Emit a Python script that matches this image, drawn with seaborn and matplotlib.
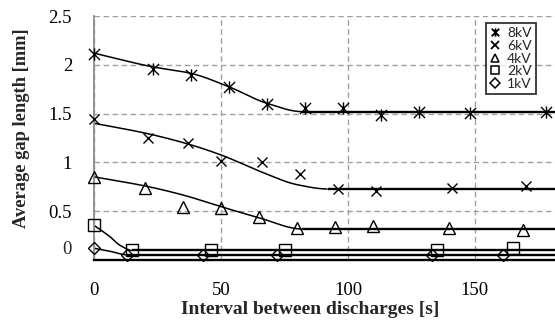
import numpy as np
import matplotlib
matplotlib.use("Agg")
import matplotlib.pyplot as plt
import seaborn as sns
from matplotlib.path import Path
from matplotlib.lines import Line2D

# ---------------- data ----------------
x_8kV = [0, 23, 38, 53, 68, 83, 98, 113, 128, 148, 178]
y_8kV = [2.11, 1.955, 1.895, 1.77, 1.595, 1.554, 1.554, 1.486, 1.513, 1.503, 1.52]
x_6kV = [0, 21, 37, 50, 66, 81, 96, 111, 141, 170]
y_6kV = [1.44, 1.25, 1.20, 1.01, 1.0, 0.877, 0.726, 0.708, 0.733, 0.757]
x_4kV = [0, 20, 35, 50, 65, 80, 95, 110, 140, 169]
y_4kV = [0.85, 0.733, 0.544, 0.528, 0.435, 0.322, 0.333, 0.346, 0.329, 0.305]
x_2kV = [0, 15, 46, 75, 135, 165]
y_2kV = [0.356, 0.10, 0.10, 0.10, 0.10, 0.123]
x_1kV = [0, 13, 43, 72, 133, 161]
y_1kV = [0.117, 0.048, 0.048, 0.048, 0.048, 0.048]

# fitted trend curves (knots); last knot = plateau start
fit_x_8kV = [0, 23, 38, 53, 68, 82]
fit_y_8kV = [2.12, 1.98, 1.914, 1.776, 1.606, 1.52]
fit_x_6kV = [0, 20, 36, 50, 66, 80, 92]
fit_y_6kV = [1.40, 1.30, 1.195, 1.075, 0.90, 0.77, 0.726]
fit_x_4kV = [0, 20, 35, 50, 65, 82]
fit_y_4kV = [0.85, 0.757, 0.664, 0.544, 0.43, 0.315]
fit_x_2kV = [0, 6, 10, 15]
fit_y_2kV = [0.35, 0.24, 0.15, 0.095]
fit_x_1kV = [0, 6, 13]
fit_y_1kV = [0.117, 0.088, 0.05]

labels = ["8kV", "6kV", "4kV", "2kV", "1kV"]
x_ticks = [0, 50, 100, 150]
y_ticks = [0.5, 1.0, 1.5, 2.0, 2.5]
y_tick_labels = ["0.5", "1", "1.5", "2", "2.5"]
X_MAX = 181.6

# ---------------- style ----------------
sns.set_style("white")
plt.rcParams["font.family"] = ["Liberation Serif", "DejaVu Serif"]

star = Path([(-1, -1), (1, 1), (-1, 1), (1, -1), (0, -1.1), (0, 1.1)],
            [Path.MOVETO, Path.LINETO, Path.MOVETO, Path.LINETO, Path.MOVETO, Path.LINETO])

series = [
    (x_8kV, y_8kV, fit_x_8kV, fit_y_8kV, star, 8.8, 6.0),
    (x_6kV, y_6kV, fit_x_6kV, fit_y_6kV, "x", 7.4, 5.2),
    (x_4kV, y_4kV, fit_x_4kV, fit_y_4kV, "^", 9.0, 6.0),
    (x_2kV, y_2kV, fit_x_2kV, fit_y_2kV, "s", 8.8, 6.0),
    (x_1kV, y_1kV, fit_x_1kV, fit_y_1kV, "D", 5.8, 4.6),
]


def monotone_curve(xk, yk, n=200):
    xk = np.asarray(xk, float)
    yk = np.asarray(yk, float)
    h = np.diff(xk)
    d = np.diff(yk) / h
    m = np.zeros_like(xk)
    m[0] = d[0]
    for k in range(1, len(xk) - 1):
        if d[k - 1] * d[k] > 0:
            w1 = 2 * h[k] + h[k - 1]
            w2 = h[k] + 2 * h[k - 1]
            m[k] = (w1 + w2) / (w1 / d[k - 1] + w2 / d[k])
    m[-1] = 0.0
    xs = np.linspace(xk[0], xk[-1], n)
    idx = np.clip(np.searchsorted(xk, xs, side="right") - 1, 0, len(xk) - 2)
    t = (xs - xk[idx]) / h[idx]
    h00 = 2 * t**3 - 3 * t**2 + 1
    h10 = t**3 - 2 * t**2 + t
    h01 = -2 * t**3 + 3 * t**2
    h11 = t**3 - t**2
    ys = h00 * yk[idx] + h10 * h[idx] * m[idx] + h01 * yk[idx + 1] + h11 * h[idx] * m[idx + 1]
    return xs, ys


fig = plt.figure(figsize=(5.55, 3.27), dpi=100)
ax = fig.add_axes([94.3 / 555, (327 - 259.7) / 327, (555 - 94.3) / 555, (259.7 - 16.2) / 327])

for xs_, ys_, fx, fy, mk, ms, lms in series:
    cx, cy = monotone_curve(fx, fy)
    ax.plot(cx, cy, color="black", lw=1.1, solid_capstyle="butt", zorder=2)
    ax.plot([fx[-1], X_MAX], [fy[-1], fy[-1]], color="black", lw=1.7,
            solid_capstyle="butt", zorder=2)
    sns.lineplot(x=xs_, y=ys_, ax=ax, estimator=None, linestyle="none",
                 marker=mk, markersize=ms, markerfacecolor="none",
                 markeredgecolor="black", markeredgewidth=1.0,
                 color="black", zorder=3, clip_on=False)

TICK_FS = 13.5
ax.set_xlim(0, X_MAX)
ax.set_ylim(0, 2.5)
ax.set_xticks(x_ticks)
ax.set_xticklabels([str(v) for v in x_ticks])
ax.set_yticks(y_ticks)
ax.set_yticklabels(y_tick_labels)
ax.tick_params(axis="both", length=0, labelsize=TICK_FS, colors="black")
ax.tick_params(axis="y", pad=16)
ax.tick_params(axis="x", pad=16)
# the "0" label sits slightly above the baseline in the reference
ax.annotate("0", xy=(0, 0), xycoords="data", xytext=(-16, 7),
            textcoords="offset points", ha="right", va="center", fontsize=TICK_FS,
            annotation_clip=False)

ax.grid(True, linestyle=(0, (4, 2.5)), color="#a0a0a0", lw=1.0)
for s in ["top", "right"]:
    ax.spines[s].set_visible(False)
ax.spines["left"].set_color("#8c8c8c")
ax.spines["left"].set_linewidth(1.3)
ax.spines["bottom"].set_color("black")
ax.spines["bottom"].set_linewidth(1.7)
ax.spines["bottom"].set_zorder(2.5)

ax.set_xlabel("Interval between discharges [s]", fontsize=14, fontweight="bold")
ax.xaxis.set_label_coords((310 - 94.3) / 460.7, (259.7 - 301) / 243.5)
ax.xaxis.label.set_va("top")
ax.set_ylabel("Average gap length [mm]", fontsize=13.3, fontweight="bold")
ax.yaxis.set_label_coords((30 - 94.3) / 460.7, 0.5)
ax.yaxis.label.set_position((0, (259.7 - 128) / 243.5))
ax.yaxis.set_label_coords((30 - 94.3) / 460.7, (259.7 - 128) / 243.5)

handles = [Line2D([], [], linestyle="none", marker=mk, markersize=lms,
                  markerfacecolor="none", markeredgecolor="black",
                  markeredgewidth=1.3 if i < 2 else 1.1)
           for i, (_, _, _, _, mk, _, lms) in enumerate(series)]
leg = ax.legend(handles, labels, loc="upper right",
                bbox_to_anchor=(536 / 555, 1 - 23 / 327),
                bbox_transform=fig.transFigure, borderaxespad=0,
                frameon=True, fancybox=False, edgecolor="black",
                prop={"family": ["Lato", "DejaVu Sans"], "size": 10},
                handlelength=0.8, handletextpad=0.45, labelspacing=0.05,
                borderpad=0.3)
leg.get_frame().set_linewidth(1.3)

fig.savefig("out.png", dpi=100)
